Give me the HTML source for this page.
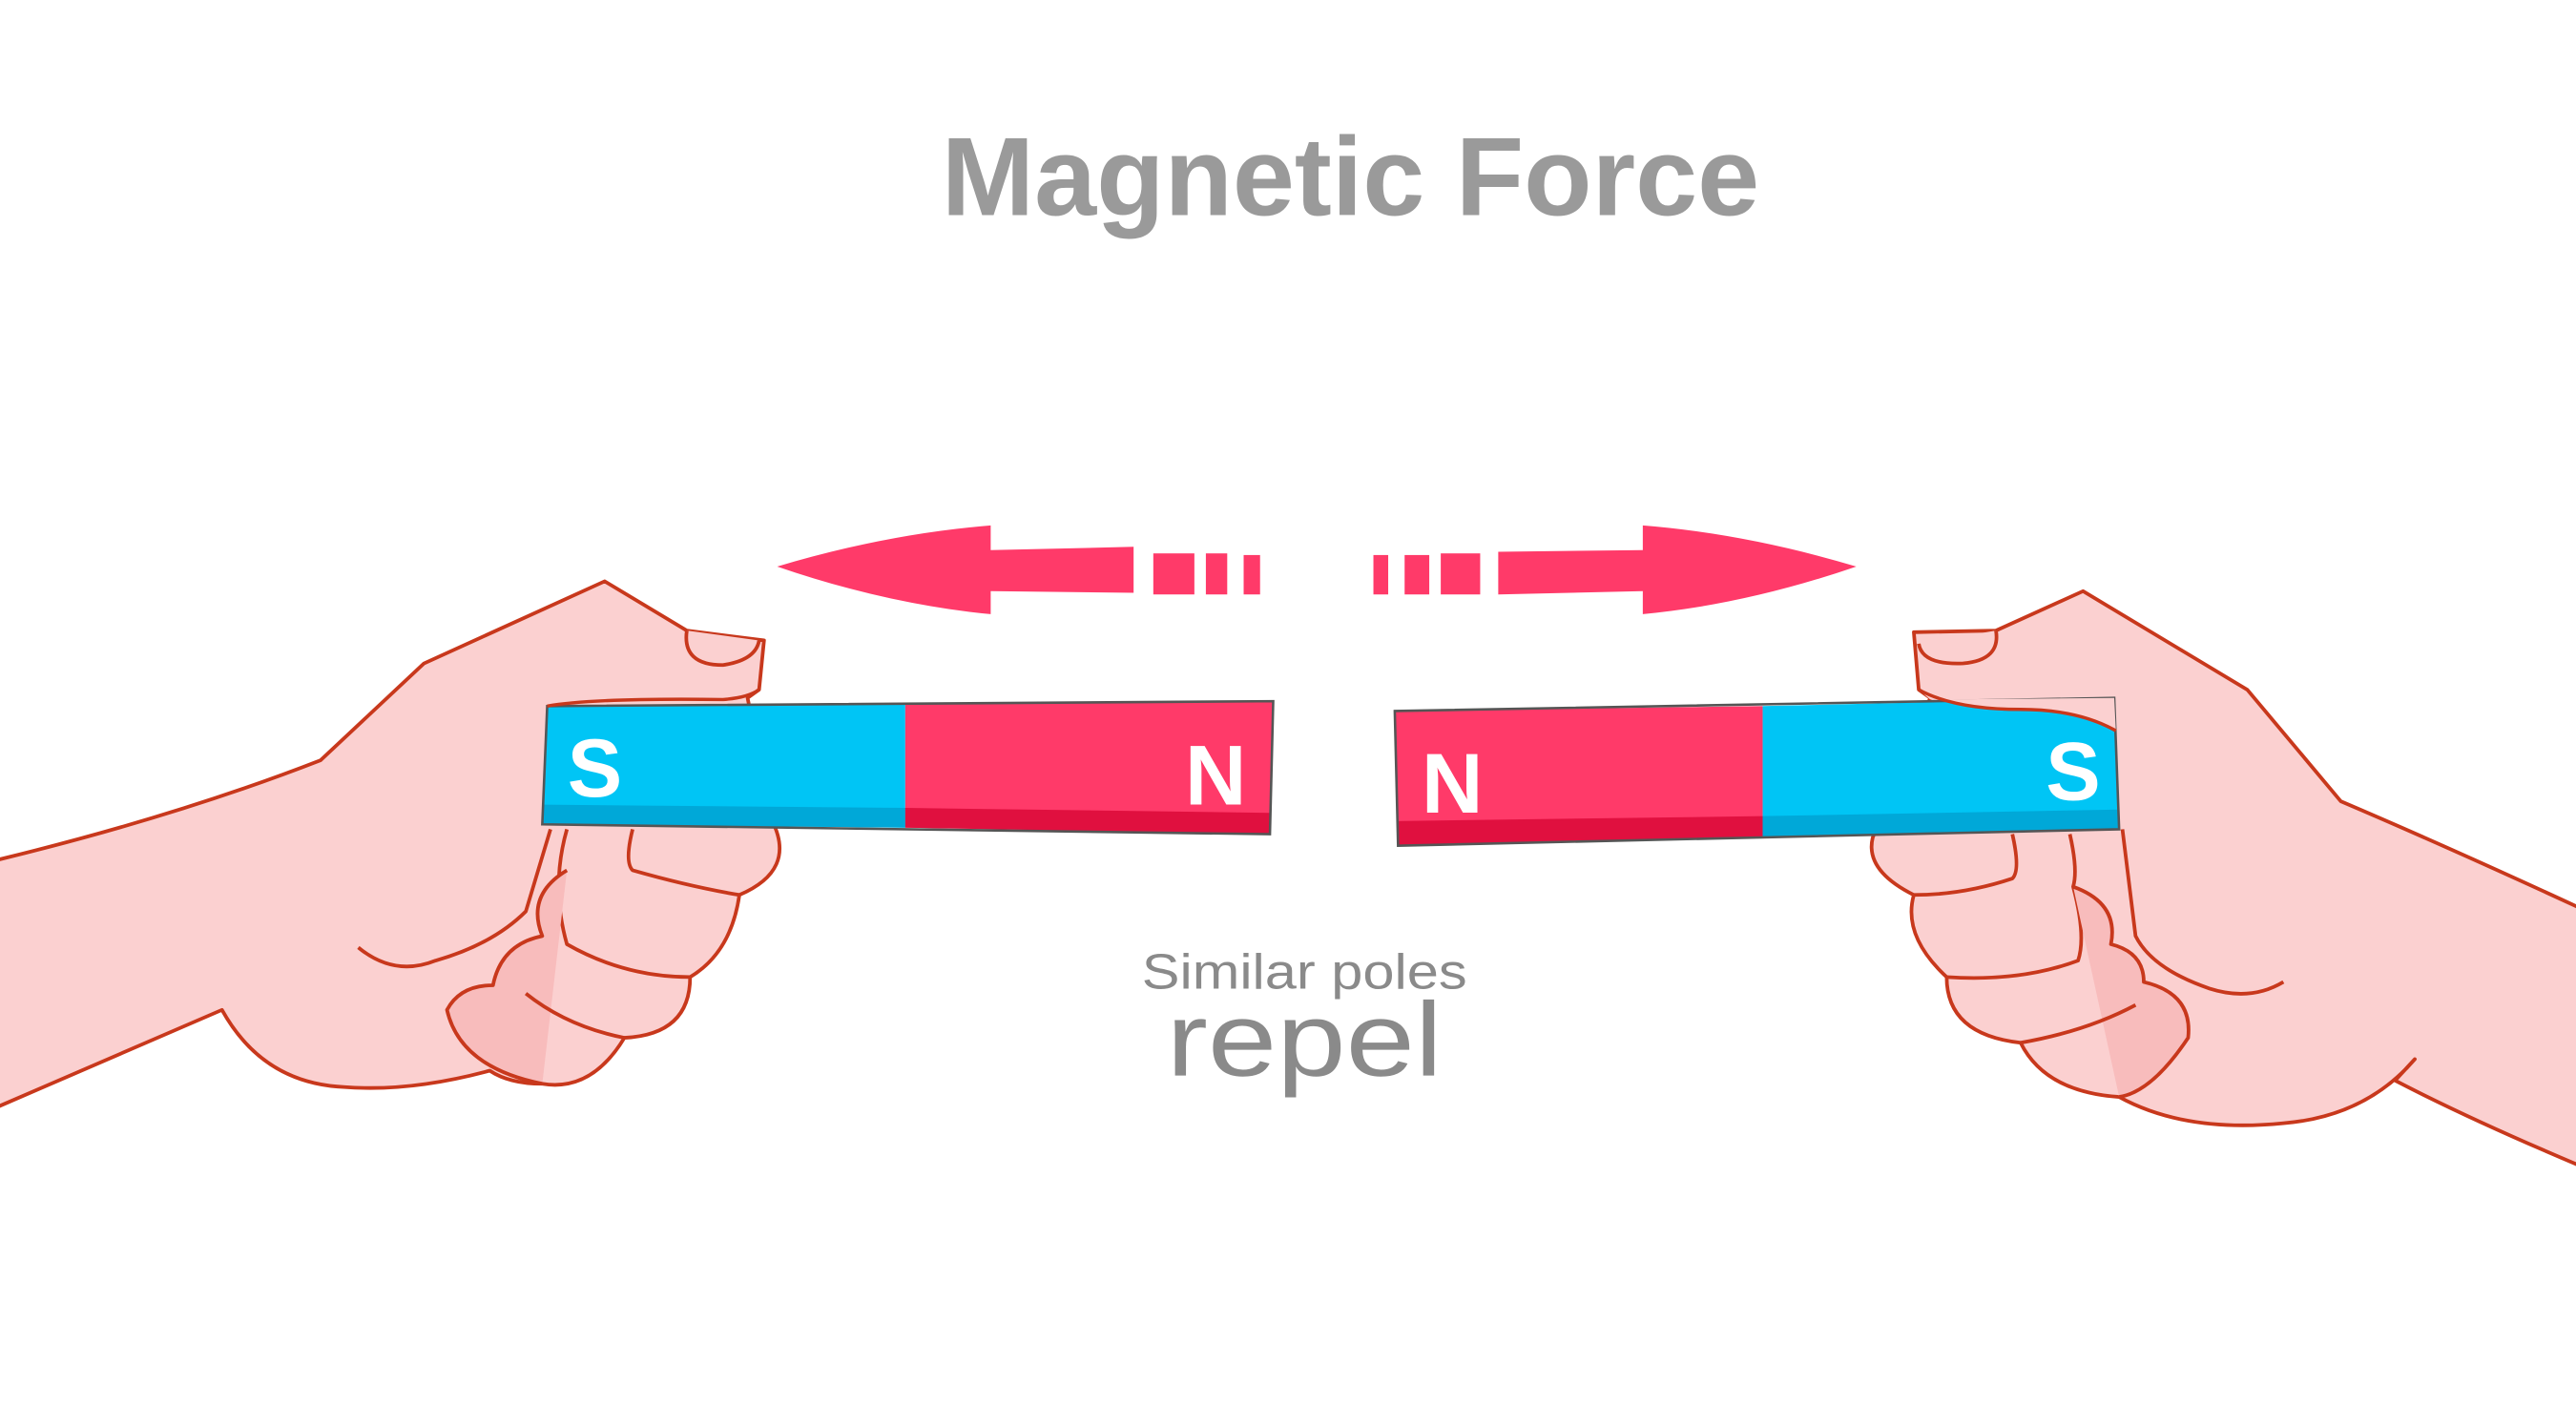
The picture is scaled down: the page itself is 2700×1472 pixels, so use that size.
<!DOCTYPE html>
<html><head><meta charset="utf-8"><style>
html,body{margin:0;padding:0;background:#fff;}
svg{display:block;}
</style></head><body>
<svg width="2700" height="1472" viewBox="0 0 1568 855" xmlns="http://www.w3.org/2000/svg">
<rect width="1568" height="855" fill="#fff"/>
<text x="822" y="131" text-anchor="middle" font-family="Liberation Sans, sans-serif" font-weight="bold" font-size="68" fill="#9a9a9a" textLength="498" lengthAdjust="spacingAndGlyphs">Magnetic Force</text>

<g fill="#ff3a69">
<path d="M473,345 Q540,325 603,320 L603,335 L690,333 L690,361 L603,360 L603,374 Q540,368 473,345Z"/>
<rect x="702" y="337" width="25" height="25"/><rect x="734" y="337" width="13" height="25"/><rect x="757" y="338" width="10" height="24"/>
<path d="M1130,345 Q1063,325 1000,320 L1000,335 L912,336 L912,362 L1000,360 L1000,374 Q1063,368 1130,345Z"/>
<rect x="877" y="337" width="24" height="25"/><rect x="855" y="338" width="15" height="24"/><rect x="836" y="338" width="9" height="24"/>
</g>

<g stroke="#c8381c" stroke-width="2.2" stroke-linejoin="round" fill="#fbd0d0">
<path d="M-20,528 Q100,500 195,463 L258,404 L368,354 L418,384 L465,390 L462,420 L455,425 L470,500 Q485,530 450,545 Q445,580 420,595 Q420,630 380,632 Q360,665 330,660 Q310,660 298,652 Q250,665 210,662 Q160,660 135,615 L-20,682Z"/>
<path d="M418,384 Q415,405 440,405 Q460,402 462,390"/>
<path d="M218,577 Q240,595 265,585 Q300,575 320,555 L335,505" fill="none"/>
<path d="M345,505 Q335,540 345,575 Q380,595 420,595" fill="none"/>
<path d="M385,505 Q380,525 385,530 Q420,540 450,545" fill="none"/>
<path d="M345,530 Q320,545 330,570 Q305,575 300,600 Q280,600 272,615 Q280,650 330,660" fill="#f8bcbc"/>
<path d="M320,605 Q345,625 380,632" fill="none"/>
</g>
<path d="M333,430 L551,428 L551,504 L330,502Z" fill="#00c5f5"/>
<path d="M551,428 L775,427 L773,508 L551,504Z" fill="#ff3a69"/>
<path d="M331,490 L551,492 L551,504 L330,502Z" fill="#00a8d8"/>
<path d="M551,492 L773,495 L773,508 L551,504Z" fill="#e0103f"/>
<path d="M333,430 L775,427 L773,508 L330,502Z" fill="none" stroke="#555" stroke-width="1.5"/>
<text x="362" y="485" text-anchor="middle" font-family="Liberation Sans, sans-serif" font-weight="bold" font-size="50" fill="#fff">S</text>
<text x="740" y="490" text-anchor="middle" font-family="Liberation Sans, sans-serif" font-weight="bold" font-size="52" fill="#fff">N</text>
<path d="M333,430 Q360,425 440,426 Q455,425 462,420" fill="#fbd0d0" stroke="#c8381c" stroke-width="2"/>

<g stroke="#c8381c" stroke-width="2.2" stroke-linejoin="round" fill="#fbd0d0">
<path d="M1590,562 Q1500,520 1425,488 L1368,420 L1268,360 L1215,384 L1165,385 L1168,420 L1175,425 L1140,510 Q1135,530 1165,545 Q1158,570 1185,595 Q1185,630 1230,635 Q1245,665 1290,668 Q1330,690 1390,684 Q1440,680 1470,645 L1458,658 Q1510,685 1590,718Z"/>
<path d="M1215,384 Q1218,402 1195,404 Q1170,405 1168,392"/>
<path d="M1390,598 Q1370,610 1345,602 Q1310,590 1300,570 L1292,505" fill="none"/>
<path d="M1260,508 Q1265,530 1262,540 Q1270,570 1265,585 Q1230,598 1185,595" fill="none"/>
<path d="M1225,508 Q1230,530 1225,535 Q1195,545 1165,545" fill="none"/>
<path d="M1262,540 Q1290,550 1285,575 Q1305,580 1305,598 Q1335,605 1332,632 Q1310,665 1290,668" fill="#f8bcbc"/>
<path d="M1230,635 Q1270,628 1300,612" fill="none"/>
</g>
<path d="M849,433 L1073,430 L1073,510 L851,515Z" fill="#ff3a69"/>
<path d="M1073,430 L1287,425 L1290,505 L1073,510Z" fill="#00c5f5"/>
<path d="M850,500 L1073,497 L1073,510 L851,515Z" fill="#e0103f"/>
<path d="M1073,497 L1290,493 L1290,505 L1073,510Z" fill="#00a8d8"/>
<path d="M849,433 L1287,425 L1290,505 L851,515Z" fill="none" stroke="#555" stroke-width="1.5"/>
<text x="884" y="495" text-anchor="middle" font-family="Liberation Sans, sans-serif" font-weight="bold" font-size="52" fill="#fff">N</text>
<text x="1262" y="487" text-anchor="middle" font-family="Liberation Sans, sans-serif" font-weight="bold" font-size="50" fill="#fff">S</text>
<path d="M1168,420 L1175,426 L1287,425 L1288,445 Q1265,432 1230,432 Q1190,432 1168,420Z" fill="#fbd0d0"/>
<path d="M1168,420 Q1190,432 1230,432 Q1265,432 1288,445" fill="none" stroke="#c8381c" stroke-width="2"/>

<text x="794" y="602" text-anchor="middle" font-family="Liberation Sans, sans-serif" font-size="30" fill="#8a8a8a" textLength="198" lengthAdjust="spacingAndGlyphs">Similar poles</text>
<text x="794" y="655" text-anchor="middle" font-family="Liberation Sans, sans-serif" font-size="64" fill="#8a8a8a" textLength="168" lengthAdjust="spacingAndGlyphs">repel</text>
</svg>
</body></html>
